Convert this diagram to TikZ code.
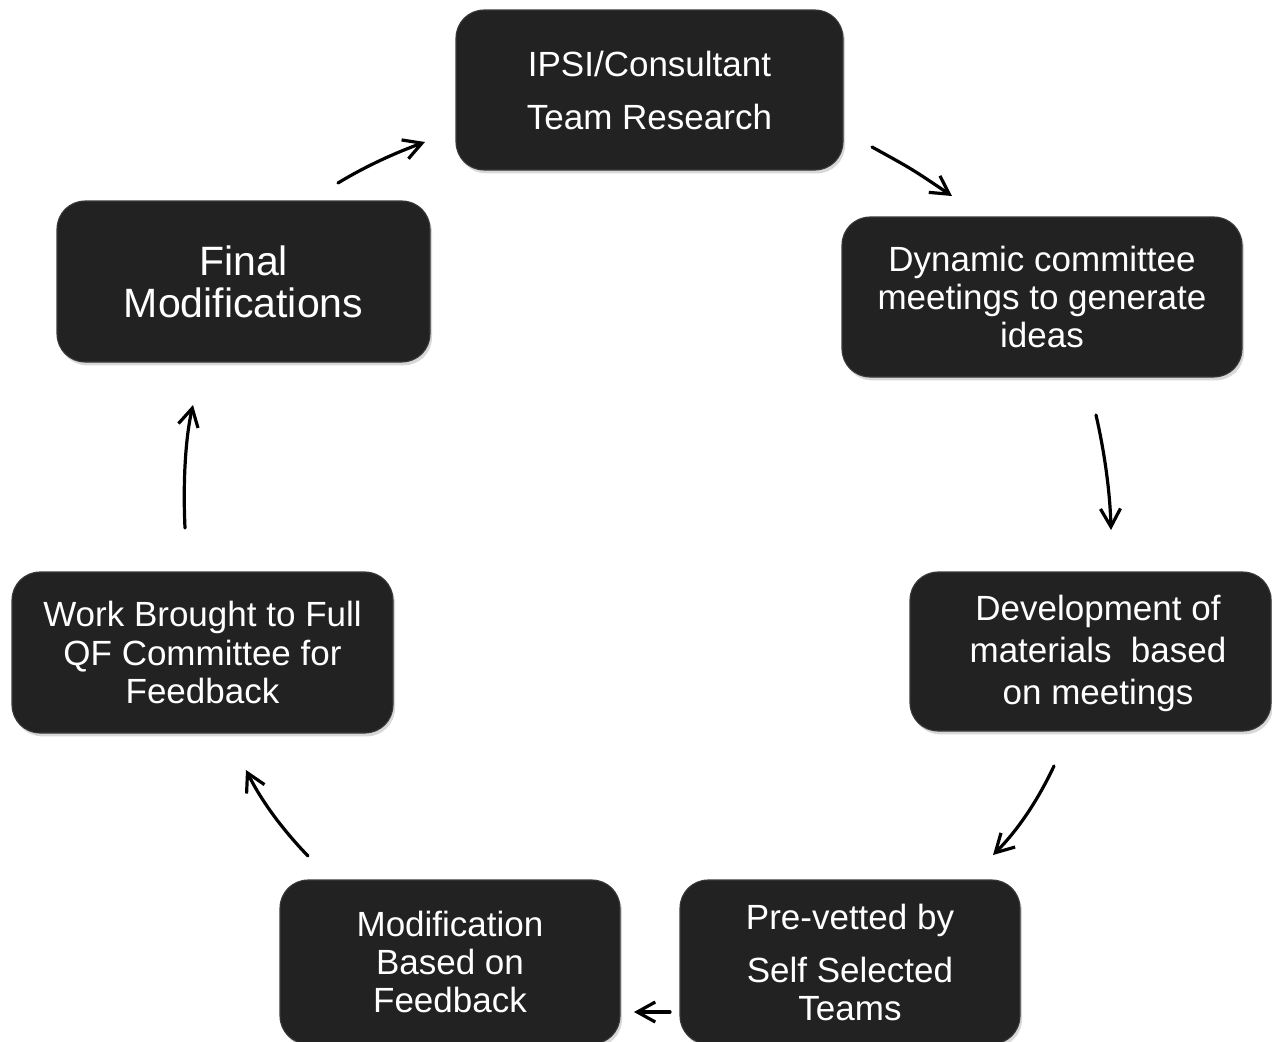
\documentclass[tikz,border=0pt]{standalone}
\usepackage{fontspec}
\setmainfont{Liberation Sans}
\usetikzlibrary{arrows.meta,shadows}
\definecolor{boxfill}{HTML}{222222}
\definecolor{boxedge}{HTML}{3A3A3A}
\begin{document}
\begin{tikzpicture}[x=0.75pt,y=-0.75pt,
  box/.style={rectangle, rounded corners=21pt, fill=boxfill, draw=boxedge, line width=0.8pt,
    text=white, align=center, inner sep=0pt,
    drop shadow={shadow xshift=1.5pt, shadow yshift=-2.5pt, opacity=0.25, fill=black!60}},
  txt/.style={font=\fontsize{26.25pt}{28.5pt}\selectfont},
  conn/.style={line width=2.4pt, line cap=round, -{Straight Barb[length=13.5pt,width=15pt,line width=2.4pt]}}]
\useasboundingbox[fill=white] (0,0) rectangle (1272,1042);

\node[box, minimum width=290.25pt, minimum height=120pt, font=\fontsize{26.25pt}{39.75pt}\selectfont] (top) at (649.5,90) {IPSI/Consultant\\Team Research};
\node[box, txt, minimum width=300pt, minimum height=120pt] (dyn) at (1042,297) {Dynamic committee\\meetings to generate\\ideas};
\node[box, minimum width=270.75pt, minimum height=119.25pt] (dev) at (1090.5,651.5) {};
\node[txt, text=white, align=center, font=\fontsize{26.25pt}{31.5pt}\selectfont] (devt) at (1098,653) {Development of\\materials\ \ based\\on meetings};
\node[box, txt, minimum width=255pt, minimum height=123pt] (pre) at (850,962) {Pre-vetted by\\[11.25pt]Self Selected\\Teams};
\node[box, txt, minimum width=255pt, minimum height=123pt] (mod) at (450,962) {Modification\\Based on\\Feedback};
\node[box, minimum width=285.75pt, minimum height=120.75pt, font=\fontsize{26.25pt}{28.8pt}\selectfont] (work) at (202.5,652.5) {Work Brought to Full\\QF Committee for\\Feedback};
\node[box, minimum width=279.75pt, minimum height=120.75pt, font=\fontsize{30.75pt}{31.5pt}\selectfont] (fin) at (243.5,281.5) {Final\\Modifications};

\coordinate (a1s) at (338,183);  \coordinate (a1c) at (366,166); \coordinate (a1d) at (395,153); \coordinate (a1e) at (425,142);
\coordinate (a2s) at (872,147);  \coordinate (a2c) at (912,169); \coordinate (a2e) at (952,196);
\coordinate (a3s) at (1096,415); \coordinate (a3c) at (1104,450); \coordinate (a3d) at (1110,490); \coordinate (a3e) at (1111,530);
\coordinate (a4s) at (1054,766); \coordinate (a4c) at (1038,800); \coordinate (a4d) at (1018,830); \coordinate (a4e) at (993,855);
\coordinate (a5s) at (670,1012); \coordinate (a5e) at (634,1012);
\coordinate (a6s) at (308,856);  \coordinate (a6c) at (283,830); \coordinate (a6d) at (262,802); \coordinate (a6e) at (246,770);
\coordinate (a7s) at (185,528);  \coordinate (a7c) at (183,485); \coordinate (a7d) at (185,440); \coordinate (a7e) at (193,405);

\draw[conn] (a1s) .. controls (a1c) and (a1d) .. (a1e);
\draw[conn] (a2s) .. controls (a2c) .. (a2e);
\draw[conn] (a3s) .. controls (a3c) and (a3d) .. (a3e);
\draw[conn] (a4s) .. controls (a4c) and (a4d) .. (a4e);
\draw[conn] (a5s) -- (a5e);
\draw[conn] (a6s) .. controls (a6c) and (a6d) .. (a6e);
\draw[conn] (a7s) .. controls (a7c) and (a7d) .. (a7e);
\end{tikzpicture}
\end{document}
